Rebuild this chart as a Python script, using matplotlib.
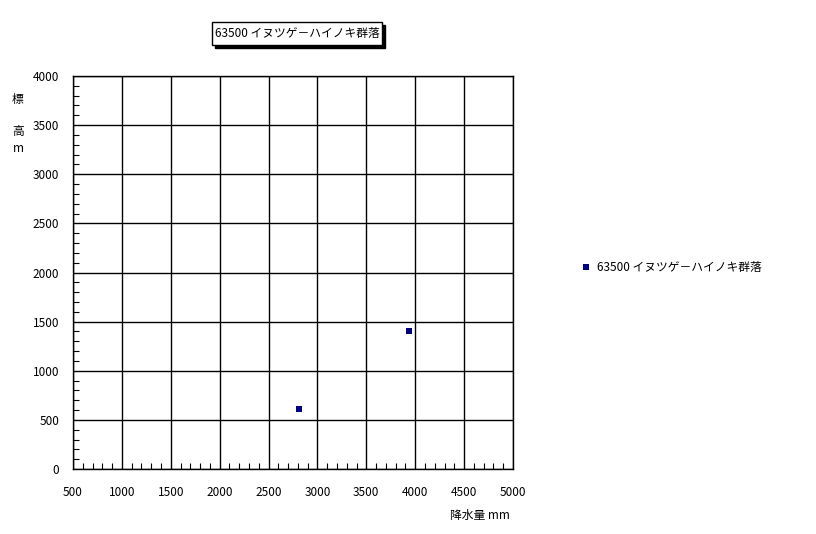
import matplotlib
matplotlib.use("Agg")
import matplotlib.pyplot as plt
from matplotlib.patches import Rectangle
from matplotlib.ticker import MultipleLocator

plt.rcParams['font.family'] = ['Noto Sans CJK JP', 'DejaVu Sans']

series_name = "63500 イヌツゲ－ハイノキ群落"
precip = [2810, 3940]
elevation = [610, 1400]

W, H = 816, 534
fig = plt.figure(figsize=(W / 100, H / 100), dpi=100)
ax = fig.add_axes([73 / W, 1 - 469 / H, 440 / W, 393 / H])

ax.scatter(precip, elevation, marker='s', s=22, color='#000080', zorder=3,
           label=series_name, linewidths=0)

ax.set_xlim(500, 5000)
ax.set_ylim(0, 4000)
ax.xaxis.set_major_locator(MultipleLocator(500))
ax.yaxis.set_major_locator(MultipleLocator(500))
ax.xaxis.set_minor_locator(MultipleLocator(100))
ax.yaxis.set_minor_locator(MultipleLocator(100))
ax.grid(True, which='major', color='black', linewidth=1)
ax.tick_params(which='major', direction='in', length=0, labelsize=8.5, pad=12)
ax.tick_params(which='minor', direction='in', length=4, width=0.8)
ax.tick_params(axis='y', pad=10)
for s in ax.spines.values():
    s.set_linewidth(1)

# title box with shadow
bx0, bx1, by0, by1 = 212, 382, 22, 45
fig.patches.append(Rectangle(((bx0 + 3) / W, 1 - (by1 + 3) / H), (bx1 - bx0) / W,
                             (by1 - by0) / H, transform=fig.transFigure,
                             facecolor='black', edgecolor='black', zorder=1))
fig.patches.append(Rectangle((bx0 / W, 1 - by1 / H), (bx1 - bx0) / W,
                             (by1 - by0) / H, transform=fig.transFigure,
                             facecolor='white', edgecolor='black', linewidth=1, zorder=2))
fig.text((bx0 + bx1) / 2 / W, 1 - (by0 + by1) / 2 / H, series_name,
         ha='center', va='center', fontsize=8.5, zorder=3)

# axis labels
fig.text(18 / W, 1 - 100 / H, "標", ha='center', va='center', fontsize=8.5)
fig.text(18 / W, 1 - 131 / H, "高", ha='center', va='center', fontsize=8.5)
fig.text(18 / W, 1 - 148 / H, "m", ha='center', va='center', fontsize=8.5)
fig.text(480 / W, 1 - 515 / H, "降水量 mm", ha='center', va='center', fontsize=8.5)

# legend
ax.legend(loc='center left', bbox_to_anchor=(569 / W, 1 - 267 / H),
          bbox_transform=fig.transFigure, frameon=False, fontsize=8.5,
          handletextpad=0.0, markerscale=0.85, borderaxespad=0)

fig.savefig("out.png", dpi=100)
